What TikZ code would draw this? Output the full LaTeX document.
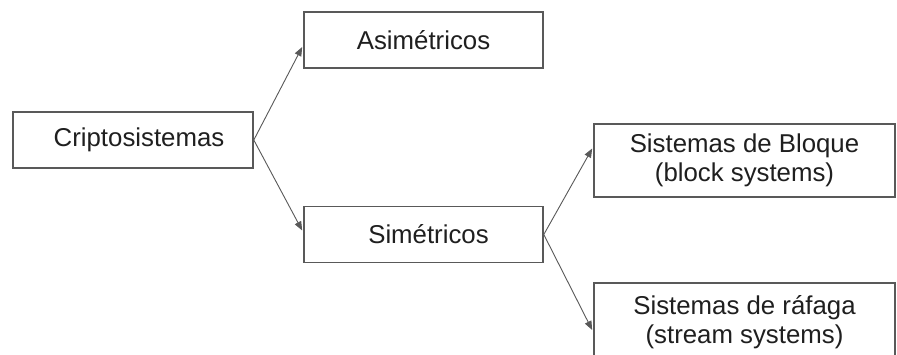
\documentclass[tikz,border=0pt]{standalone}
\usepackage{fontspec}
\setmainfont{Liberation Sans}
\usetikzlibrary{arrows.meta,calc}
\begin{document}
\begin{tikzpicture}[x=1pt,y=-1pt,
  box/.style={draw=black!65, line width=1.6pt, fill=white, inner sep=0pt,
    minimum width=239pt, minimum height=56pt, align=center,
    font=\fontsize{25.8}{29.5}\selectfont, text=black!88},
  widebox/.style={box, minimum width=301pt, minimum height=73pt},
  link/.style={draw=black!65, line width=0.9pt,
    -{Triangle[length=9pt,width=7pt]}}]
\useasboundingbox[fill=white] (0,0) rectangle (897,354);
\node[box, minimum width=240pt] (cripto) at (133,140) {\hspace*{12pt}Criptosistemas};
\node[box] (asim) at (423.5,40) {Asimétricos};
\node[box] (sim) at (423.5,234.5) {\hspace*{10pt}Simétricos};
\node[widebox] (bloque) at (744.5,160.5) {Sistemas de Bloque\\(block systems)};
\node[widebox, minimum height=78pt] (rafaga) at (744.5,322) {Sistemas de ráfaga\\(stream systems)};
\draw[link] (cripto.east) -- ($(asim.west)+(-1,7)$);
\draw[link] (cripto.east) -- ($(sim.west)+(-1,-4)$);
\draw[link] (sim.east) -- ($(bloque.west)+(-1,-12)$);
\draw[link] (sim.east) -- ($(rafaga.west)+(-1,8)$);
\end{tikzpicture}
\end{document}
